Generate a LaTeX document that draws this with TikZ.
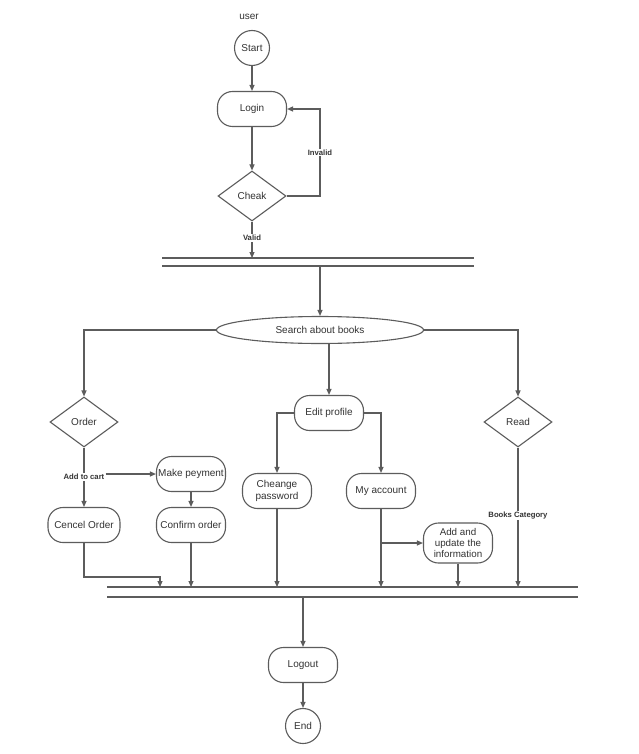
\documentclass[tikz,border=0pt]{standalone}
\usepackage{fontspec}
\setmainfont{Liberation Sans}
\usetikzlibrary{shapes.geometric,arrows.meta}
\definecolor{lc}{HTML}{5C5C5C}
\definecolor{tc}{HTML}{333333}
\begin{document}
\begin{tikzpicture}[x=1pt,y=-1pt,
  line/.style={draw=lc, line width=1.1pt},
  arr/.style={line, -{Triangle[length=6pt,width=5pt]}},
  txt/.style={text=tc, font=\fontsize{10}{12}\selectfont, align=center},
  box/.style={txt, draw=lc, line width=1.1pt, rounded corners=15pt, minimum width=69pt, minimum height=35pt, inner sep=1pt},
  term/.style={txt, draw=lc, line width=1.1pt, circle, minimum size=35pt, inner sep=0pt},
  dec/.style={txt, draw=lc, line width=1.1pt, diamond, minimum width=68pt, minimum height=50pt, inner sep=0pt},
  oval/.style={txt, draw=lc, line width=1.1pt, ellipse, minimum width=207pt, minimum height=27pt, inner sep=0pt},
  lab/.style={text=tc, fill=white, inner sep=1pt, font=\bfseries\fontsize{7.7}{9}\selectfont},
  bar/.style={minimum height=0pt, inner sep=0pt, outer sep=0pt}
]
\useasboundingbox (0,0) rectangle (639,754);
\fill[white] (0,0) rectangle (639,754);

\node[txt] (user) at (249,17) {user};
\node[term] (start) at (252,48) {Start};
\node[box] (login) at (252,109) {Login};
\node[dec] (cheak) at (252,196) {Cheak};

\node[bar, minimum width=312pt] (bar1a) at (318,258) {};
\node[bar, minimum width=312pt] (bar1b) at (318,266) {};
\draw[line] (bar1a.west) -- (bar1a.east);
\draw[line] (bar1b.west) -- (bar1b.east);

\node[oval] (search) at (320,330) {Search about books};
\node[dec] (order) at (84,422) {Order};
\node[box] (edit) at (329,413) {Edit profile};
\node[dec] (read) at (518,422) {Read};

\node[box] (make) at (191,474) {Make peyment};
\node[box] (confirm) at (191,525) {Confirm order};
\node[box, minimum width=72pt] (cencel) at (84,525) {Cencel Order};
\node[box] (cheange) at (277,491) {Cheange\\password};
\node[box] (myacc) at (381,491) {My account};
\node[box, minimum height=40pt, font=\fontsize{9.8}{11.2}\selectfont] (add) at (458,543) {Add and\\update the\\information};

\node[bar, minimum width=471pt] (bar2a) at (342.5,587) {};
\node[bar, minimum width=471pt] (bar2b) at (342.5,597) {};
\draw[line] (bar2a.west) -- (bar2a.east);
\draw[line] (bar2b.west) -- (bar2b.east);

\node[box] (logout) at (303,665) {Logout};
\node[term] (end) at (303,726) {End};

% top part
\draw[arr] (start) -- (login);
\draw[arr] (login) -- (cheak);
\coordinate (inv) at (320,0);
\draw[arr] (cheak.east) -- (cheak.east -| inv) -- node[lab]{Invalid} (login.east -| inv) -- (login.east);
\draw[arr] (cheak.south) -- node[lab, pos=0.45]{Valid} (cheak.south |- bar1a.north);
\draw[arr] (search.north |- bar1b.south) -- (search.north);

% branches from search
\draw[arr] (search.west) -| (order.north);
\draw[arr] (edit.north |- search.south) -- (edit.north);
\draw[arr] (search.east) -| (read.north);

% order branch
\node[lab] (atc) at (84,477) {Add to cart};
\draw[line] (order.south) -- (atc.north);
\draw[arr] (atc.south) -- (cencel.north);
\draw[arr] (atc.east |- make.west) -- (make.west);
\draw[arr] (make) -- (confirm);
\coordinate (cj) at (160,577);
\draw[arr] (cencel.south) |- (cj) -- (cj |- bar2a.north);
\draw[arr] (confirm.south) -- (confirm.south |- bar2a.north);

% edit profile branch
\draw[arr] (edit.west) -| (cheange.north);
\draw[arr] (edit.east) -| (myacc.north);
\draw[arr] (cheange.south) -- (cheange.south |- bar2a.north);
\draw[arr] (myacc.south) -- (myacc.south |- bar2a.north);
\draw[arr] (myacc.south |- add.west) -- (add.west);
\draw[arr] (add.south) -- (add.south |- bar2a.north);

% read branch
\draw[arr] (read.south) -- node[lab, pos=0.49]{Books Category} (read.south |- bar2a.north);

% end
\draw[arr] (logout.north |- bar2b.south) -- (logout.north);
\draw[arr] (logout) -- (end);
\end{tikzpicture}
\end{document}
